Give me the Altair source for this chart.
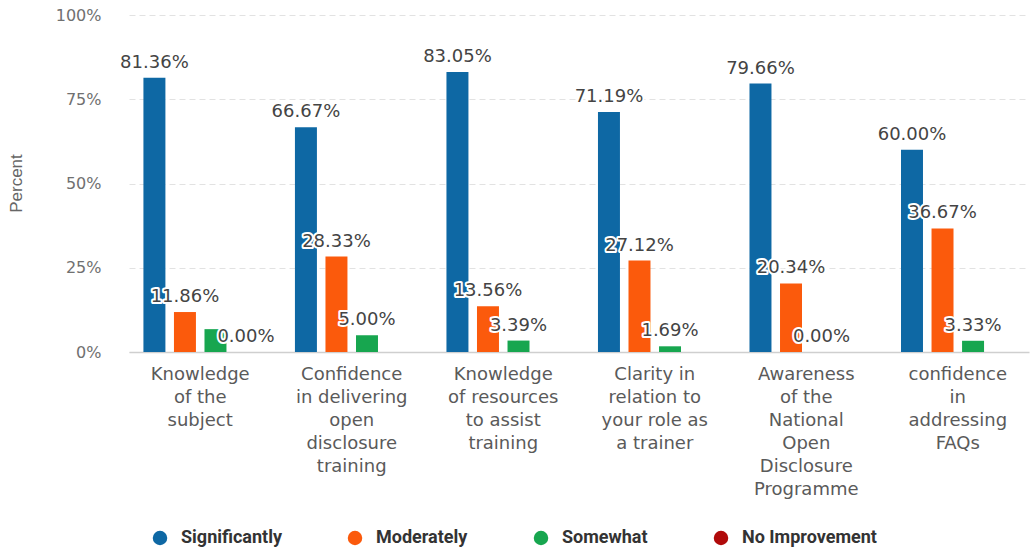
import altair as alt
import pandas as pd

# ---- data ----
category_lines = [
    ["Knowledge", "of the", "subject"],
    ["Confidence", "in delivering", "open", "disclosure", "training"],
    ["Knowledge", "of resources", "to assist", "training"],
    ["Clarity in", "relation to", "your role as", "a trainer"],
    ["Awareness", "of the", "National", "Open", "Disclosure", "Programme"],
    ["confidence", "in", "addressing", "FAQs"],
]
categories = ["\n".join(lines) for lines in category_lines]

series = ["Significantly", "Moderately", "Somewhat", "No Improvement"]
colors = ["#0e68a4", "#fb5a0c", "#17a64f", "#b00a0a"]

significantly = [81.36, 66.67, 83.05, 71.19, 79.66, 60.00]
moderately = [11.86, 28.33, 13.56, 27.12, 20.34, 36.67]
somewhat = [6.78, 5.00, 3.39, 1.69, 0.00, 3.33]
no_improvement = [0.00, 0.00, 0.00, 0.00, 0.00, 0.00]

# value labels as printed in the reference ("" = not shown)
sig_labels = ["81.36%", "66.67%", "83.05%", "71.19%", "79.66%", "60.00%"]
mod_labels = ["11.86%", "28.33%", "13.56%", "27.12%", "20.34%", "36.67%"]
som_labels = ["", "5.00%", "3.39%", "1.69%", "0.00%", "3.33%"]
noi_labels = ["0.00%", "", "", "", "", ""]

values = [significantly, moderately, somewhat, no_improvement]
labels = [sig_labels, mod_labels, som_labels, noi_labels]

rows = []
for s, vals, labs in zip(series, values, labels):
    for c, v, l in zip(categories, vals, labs):
        rows.append({"category": c, "series": s, "value": v, "label": l})
df = pd.DataFrame(rows)

FONT = "DejaVu Sans"

base = alt.Chart(df).encode(
    x=alt.X(
        "category:N",
        sort=categories,
        scale=alt.Scale(paddingInner=0.194, paddingOuter=0.067),
        axis=alt.Axis(
            title=None,
            labelAngle=0,
            labelExpr="split(datum.label, '\\n')",
            labelFont=FONT,
            labelFontSize=18,
            labelColor="#5a5a5a",
            labelLineHeight=23,
            labelBaseline="top",
            labelPadding=13,
            labelLimit=0,
            ticks=False,
            domain=True,
            domainColor="#cfcfcf",
            domainWidth=1.5,
            grid=False,
        ),
    ),
    xOffset=alt.XOffset(
        "series:N",
        sort=series,
        scale=alt.Scale(paddingInner=0.28, paddingOuter=0.14),
    ),
    y=alt.Y(
        "value:Q",
        scale=alt.Scale(domain=[0, 100]),
        axis=alt.Axis(
            title="Percent",
            values=[0, 25, 50, 75, 100],
            labelExpr="datum.value + '%'",
            labelFont=FONT,
            labelFontSize=16,
            labelColor="#707070",
            labelPadding=28,
            ticks=False,
            domain=False,
            grid=True,
            gridColor="#e2e2e2",
            gridDash=[6, 4],
            titleFont="Liberation Sans",
            titleFontSize=17,
            titleFontWeight="normal",
            titleColor="#666666",
            titleX=-104,
            titleY=168,
        ),
    ),
)

bars = base.mark_bar().encode(
    color=alt.Color(
        "series:N",
        sort=series,
        scale=alt.Scale(domain=series, range=colors),
        legend=alt.Legend(
            title=None,
            orient="none",
            legendX=22,
            legendY=514,
            direction="horizontal",
            symbolType="circle",
            symbolSize=210,
            symbolStrokeWidth=0,
            labelFont="Roboto",
            labelFontWeight="bold",
            labelFontSize=18,
            labelColor="#333333",
            labelOffset=12,
            columnPadding=64,
        ),
    )
)

halo = base.mark_text(
    font=FONT, fontSize=18, baseline="alphabetic", dy=-10,
    stroke="white", strokeWidth=4, fill="white", strokeJoin="round",
).encode(text="label:N")

text = base.mark_text(
    font=FONT, fontSize=18, baseline="alphabetic", dy=-10, color="#444444",
).encode(text="label:N")

chart = (
    alt.layer(bars, halo, text)
    .properties(
        width=900,
        height=337,
        autosize=alt.AutoSizeParams(type="none"),
        padding={"left": 129, "top": 15, "right": 1, "bottom": 196},
        background="white",
    )
    .configure_view(stroke=None)
)

chart.save("out.html", embed_options={"renderer": "svg", "actions": False})
